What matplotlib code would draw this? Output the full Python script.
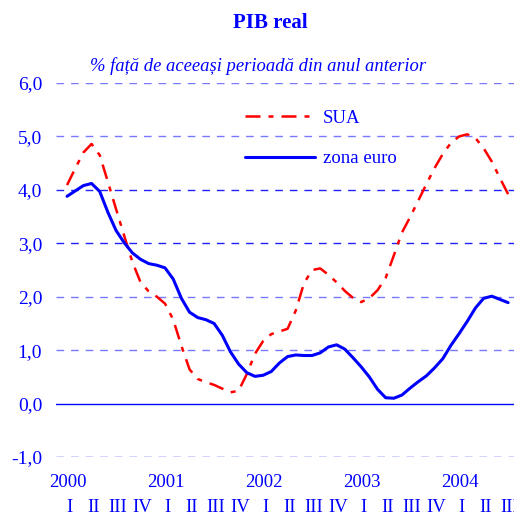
import numpy as np
import matplotlib
matplotlib.use('Agg')
import matplotlib.pyplot as plt

plt.rcParams['font.family'] = ['Liberation Serif', 'DejaVu Serif']

# monthly readings, quarter index t = 0 .. 18 (2000 Q1 .. 2004 Q3)
t = np.arange(55) / 3.0

zona_euro = [3.88, 3.98, 4.08, 4.12, 3.97, 3.58, 3.24, 3.01, 2.82, 2.70,
             2.62, 2.59, 2.54, 2.33, 1.97, 1.71, 1.61, 1.57, 1.50, 1.28,
             0.97, 0.74, 0.58, 0.51, 0.53, 0.60, 0.76, 0.88, 0.91, 0.90,
             0.90, 0.95, 1.06, 1.10, 1.02, 0.86, 0.69, 0.50, 0.27, 0.11,
             0.10, 0.16, 0.29, 0.41, 0.52, 0.67, 0.84, 1.09, 1.31, 1.54,
             1.79, 1.97, 2.01, 1.95, 1.89]

sua = [4.09, 4.40, 4.70, 4.86, 4.65, 4.15, 3.64, 3.14, 2.65, 2.27,
       2.10, 2.00, 1.87, 1.57, 1.08, 0.64, 0.46, 0.40, 0.35, 0.28,
       0.21, 0.24, 0.55, 0.93, 1.17, 1.30, 1.35, 1.40, 1.74, 2.25,
       2.50, 2.53, 2.41, 2.27, 2.11, 1.98, 1.90, 1.97, 2.12, 2.35,
       2.77, 3.20, 3.49, 3.80, 4.11, 4.41, 4.67, 4.88, 5.00, 5.04,
       4.97, 4.78, 4.53, 4.22, 3.92]

years = ['2000', '2001', '2002', '2003', '2004']
quarters = ['I', 'II', 'III', 'IV'] * 4 + ['I', 'II', 'III']
y_ticks = [-1, 0, 1, 2, 3, 4, 5, 6]

blue = '#0000ff'

fig = plt.figure(figsize=(5.14, 5.16), dpi=100)
ax = fig.add_axes([0.109, 0.1143, 0.891, 0.7248])

# grid lines
for v in y_ticks:
    if v == 0:
        ax.axhline(0, color=blue, lw=1.0, zorder=1)
    else:
        c = '#2020ff' if v in (4, 3, -1) else '#7878ff'
        ax.axhline(v, color=c, lw=1.0, linestyle=(0, (5.5, 5)), zorder=1)

ax.plot(t, sua, color='#ff0000', lw=1.8, dashes=[6, 3.2, 2, 3.2], label='SUA',
        zorder=3, dash_joinstyle='round')
ax.plot(t, zona_euro, color=blue, lw=2.2, label='zona euro', zorder=3,
        solid_joinstyle='round', solid_capstyle='round')

ax.set_xlim(-0.45, 18.24)
ax.set_ylim(-1, 6)
ax.set_yticks(y_ticks)
ax.set_yticklabels([f'{v:.1f}'.replace('.', ',') for v in y_ticks],
                   color=blue, fontsize=14)
ax.tick_params(axis='y', length=0, pad=10)
ax.set_xticks([])
for s in ax.spines.values():
    s.set_visible(False)

tr = ax.get_xaxis_transform()
for i, y in enumerate(years):
    ax.text(4 * i + 0.05, -0.067, y, transform=tr, ha='center', va='center',
            color=blue, fontsize=13.5)
for i, q in enumerate(quarters):
    ax.text(i + 0.08, -0.136, q, transform=tr, ha='center', va='center',
            color=blue, fontsize=13.5)

leg = ax.legend(loc='upper left', bbox_to_anchor=(0.413, 0.929), frameon=False,
                fontsize=13.5, handlelength=3.7, handletextpad=0.45,
                labelspacing=1.25, borderpad=0, borderaxespad=0)
for txt in leg.get_texts():
    txt.set_color(blue)

fig.text(270 / 514, 1 - 23 / 516, 'PIB real', ha='center', va='center',
         color=blue, fontsize=15, fontweight='bold')
fig.text(258 / 514, 1 - 66 / 516, '% față de aceeași perioadă din anul anterior',
         ha='center', va='center', color=blue, fontsize=13.4, style='italic')

fig.savefig('out.png', dpi=100)
